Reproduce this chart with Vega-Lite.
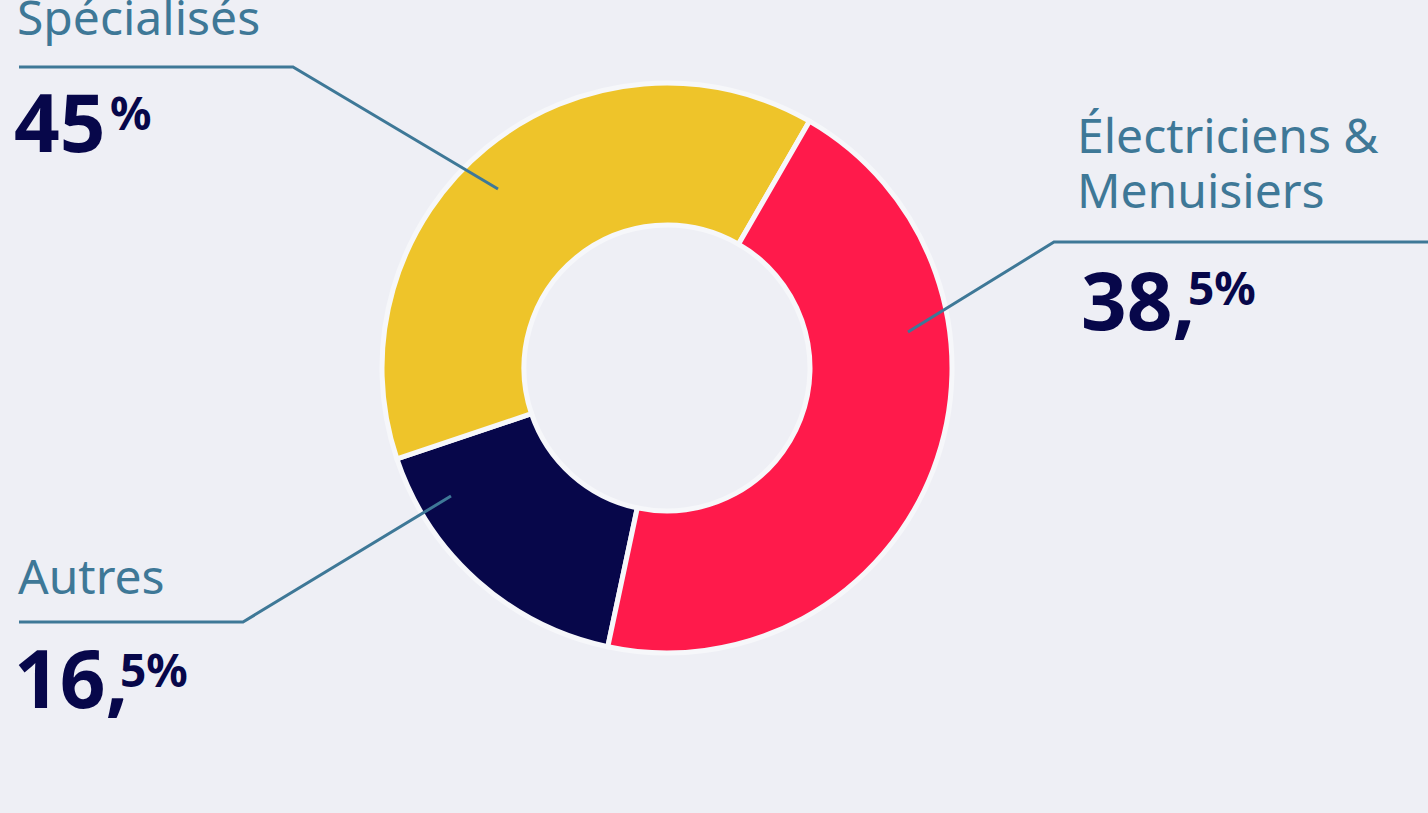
{
  "$schema": "https://vega.github.io/schema/vega-lite/v6.json",
  "width": 1428,
  "height": 813,
  "autosize": {"type": "none"},
  "padding": 0,
  "background": "#EEEFF5",
  "config": {"view": {"stroke": null}},
  "datasets": {
    "shares": [
      {"segment": "Autres", "share": 16.5},
      {"segment": "Spécialisés", "share": 38.5},
      {"segment": "Électriciens & Menuisiers", "share": 45}
    ],
    "leaders": [
      {"segment": "Spécialisés", "pt": 1, "x": 19, "y": 67},
      {"segment": "Spécialisés", "pt": 2, "x": 293, "y": 67},
      {"segment": "Spécialisés", "pt": 3, "x": 498, "y": 189},
      {"segment": "Électriciens & Menuisiers", "pt": 1, "x": 1428, "y": 242},
      {"segment": "Électriciens & Menuisiers", "pt": 2, "x": 1054, "y": 242},
      {"segment": "Électriciens & Menuisiers", "pt": 3, "x": 908, "y": 332},
      {"segment": "Autres", "pt": 1, "x": 19, "y": 622},
      {"segment": "Autres", "pt": 2, "x": 243, "y": 622},
      {"segment": "Autres", "pt": 3, "x": 451, "y": 496}
    ],
    "labels": [
      {"kind": "name", "text": "Spécialisés", "x": 17, "y": 35},
      {"kind": "name", "text": "Électriciens &", "x": 1077, "y": 153},
      {"kind": "name", "text": "Menuisiers", "x": 1077, "y": 208},
      {"kind": "name", "text": "Autres", "x": 18, "y": 594},
      {"kind": "big", "text": "45", "x": 14, "y": 152},
      {"kind": "sup", "text": "%", "x": 110, "y": 130},
      {"kind": "big", "text": "38,", "x": 1081, "y": 330},
      {"kind": "sup", "text": "5%", "x": 1188, "y": 305},
      {"kind": "big", "text": "16,", "x": 14, "y": 708},
      {"kind": "sup", "text": "5%", "x": 120, "y": 687}
    ]
  },
  "layer": [
    {
      "data": {"name": "shares"},
      "mark": {"type": "arc", "outerRadius": 285, "innerRadius": 143, "stroke": "#F6F7FA", "strokeWidth": 5},
      "encoding": {
        "theta": {"field": "share", "type": "quantitative", "stack": true, "scale": {"range": [3.351, 9.634]}},
        "color": {"field": "segment", "type": "nominal", "legend": null,
          "scale": {"domain": ["Autres", "Spécialisés", "Électriciens & Menuisiers"], "range": ["#07074A", "#EEC42A", "#FF1A4B"]}},
        "x": {"datum": 667, "type": "quantitative", "axis": null, "scale": {"domain": [0, 1428], "range": [0, 1428], "nice": false, "zero": false}},
        "y": {"datum": 368, "type": "quantitative", "axis": null, "scale": {"domain": [0, 813], "range": [0, 813], "nice": false, "zero": false}}
      }
    },
    {
      "data": {"name": "leaders"},
      "mark": {"type": "line", "stroke": "#3E7897", "strokeWidth": 3},
      "encoding": {
        "x": {"field": "x", "type": "quantitative", "axis": null, "scale": {"domain": [0, 1428], "range": [0, 1428], "nice": false, "zero": false}},
        "y": {"field": "y", "type": "quantitative", "axis": null, "scale": {"domain": [0, 813], "range": [0, 813], "nice": false, "zero": false}},
        "detail": {"field": "segment", "type": "nominal"},
        "order": {"field": "pt", "type": "quantitative"}
      }
    },
    {
      "data": {"name": "labels"},
      "transform": [{"filter": "datum.kind == 'name'"}],
      "mark": {"type": "text", "align": "left", "baseline": "alphabetic", "font": "Noto Sans", "fontSize": 48, "color": "#3E7897"},
      "encoding": {
        "x": {"field": "x", "type": "quantitative", "axis": null, "scale": {"domain": [0, 1428], "range": [0, 1428], "nice": false, "zero": false}},
        "y": {"field": "y", "type": "quantitative", "axis": null, "scale": {"domain": [0, 813], "range": [0, 813], "nice": false, "zero": false}},
        "text": {"field": "text"}
      }
    },
    {
      "data": {"name": "labels"},
      "transform": [{"filter": "datum.kind == 'big'"}],
      "mark": {"type": "text", "align": "left", "baseline": "alphabetic", "font": "Noto Sans", "fontSize": 80, "fontWeight": "bold", "color": "#07074A"},
      "encoding": {
        "x": {"field": "x", "type": "quantitative", "axis": null, "scale": {"domain": [0, 1428], "range": [0, 1428], "nice": false, "zero": false}},
        "y": {"field": "y", "type": "quantitative", "axis": null, "scale": {"domain": [0, 813], "range": [0, 813], "nice": false, "zero": false}},
        "text": {"field": "text"}
      }
    },
    {
      "data": {"name": "labels"},
      "transform": [{"filter": "datum.kind == 'sup'"}],
      "mark": {"type": "text", "align": "left", "baseline": "alphabetic", "font": "Noto Sans", "fontSize": 46, "fontWeight": "bold", "color": "#07074A"},
      "encoding": {
        "x": {"field": "x", "type": "quantitative", "axis": null, "scale": {"domain": [0, 1428], "range": [0, 1428], "nice": false, "zero": false}},
        "y": {"field": "y", "type": "quantitative", "axis": null, "scale": {"domain": [0, 813], "range": [0, 813], "nice": false, "zero": false}},
        "text": {"field": "text"}
      }
    }
  ]
}
